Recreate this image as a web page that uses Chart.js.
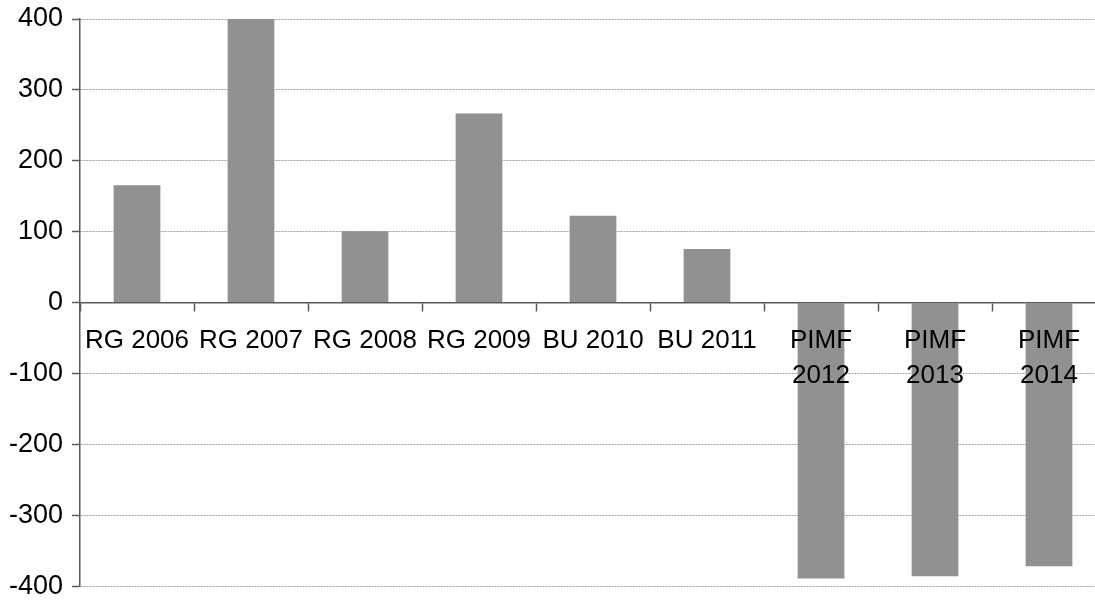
<!DOCTYPE html>
<html>
<head>
<meta charset="utf-8">
<script src="https://cdn.jsdelivr.net/npm/chart.js@4/dist/chart.umd.min.js"></script>
<style>
  html, body { margin: 0; padding: 0; background: #fff; overflow: hidden; }
  #wrap { width: 1106px; height: 600px; position: relative; }
</style>
</head>
<body>
<div id="wrap"><canvas id="grafico"></canvas></div>
<script>
// dados
const categorias = ['RG 2006', 'RG 2007', 'RG 2008', 'RG 2009', 'BU 2010', 'BU 2011',
    ['PIMF', '2012'], ['PIMF', '2013'], ['PIMF', '2014']];
const valores = [166, 400, 101, 267, 123, 76, -388, -385, -371];
const yMin = -400, yMax = 400, yPasso = 100;

const corBarra = '#919191';
const corEixo = '#5a5a5a';
const corGrade = '#a0a0a0';
const fonte = '"Liberation Sans", Arial, sans-serif';

const ctx = document.getElementById('grafico').getContext('2d');
new Chart(ctx, {
    type: 'bar',
    data: {
        labels: categorias,
        datasets: [{ data: valores, backgroundColor: corBarra, borderWidth: 0,
            barPercentage: 0.41, categoryPercentage: 1 }]
    },
    options: {
        responsive: true, maintainAspectRatio: false, animation: false,
        layout: { padding: { top: 19, right: 0, bottom: 0, left: 0 } },
        plugins: { legend: { display: false }, tooltip: { enabled: false } },
        scales: {
            x: {
                position: { y: 0 },
                offset: true,
                grid: { offset: true, drawOnChartArea: false, drawTicks: true, tickLength: 8,
                    tickColor: corEixo, tickWidth: 1.5 },
                border: { display: true, color: corEixo, width: 1.5, z: 1 },
                // z: 1 -> rótulos por cima das barras
                ticks: { z: 1, color: '#000', autoSkip: false, maxRotation: 0, minRotation: 0, padding: 12,
                    font: { family: fonte, size: 26, lineHeight: 1.35 } }
            },
            y: {
                min: yMin, max: yMax,
                afterFit: (scale) => { scale.width = 80; },
                grid: {
                    color: (c) => c.tick && c.tick.value === 0 ? 'rgba(0,0,0,0)' : corGrade,
                    lineWidth: 1, tickLength: 8, tickColor: corEixo, tickWidth: 1.5
                },
                border: { display: true, color: corEixo, width: 1.5, dash: [2, 1] },
                ticks: { stepSize: yPasso, color: '#000', padding: 9,
                    font: { family: fonte, size: 27, lineHeight: 0.3 } }
            }
        }
    }
});
</script>
</body>
</html>
